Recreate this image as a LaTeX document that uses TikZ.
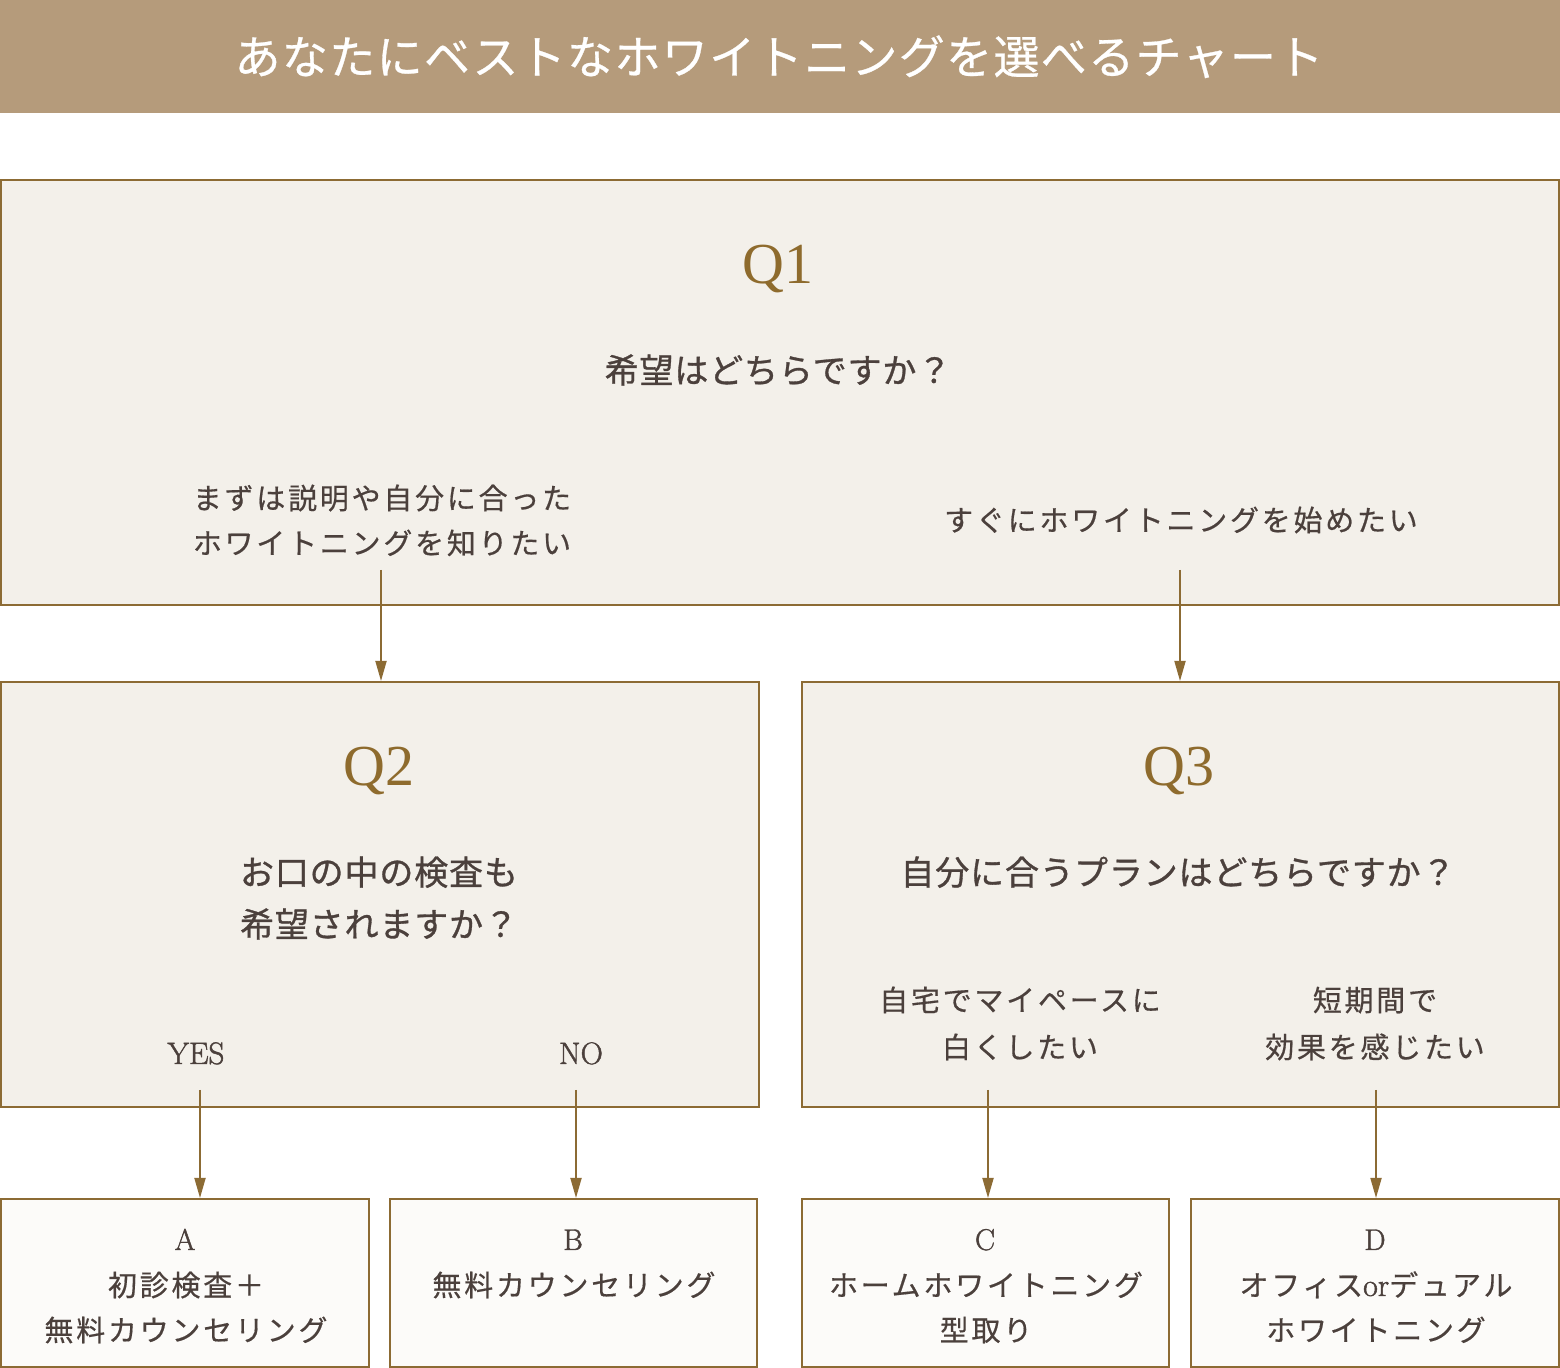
\documentclass[tikz,border=0pt]{standalone}
\usepackage{fontspec}
\newfontfamily\jptitle{Noto Sans CJK JP}[LetterSpace=3,FakeBold=0.6]
\newfontfamily\jpbody{Noto Sans CJK JP}[LetterSpace=2.5,FakeBold=0.9]
\newfontfamily\jpopt{Noto Sans CJK JP}[LetterSpace=9.5,FakeBold=0.5]
\newfontfamily\lmq{Liberation Serif}
\newfontfamily\lmt{Latin Modern Roman}[FakeBold=1.5]
\usetikzlibrary{arrows.meta}
\definecolor{hdr}{HTML}{B59B7B}
\definecolor{qfill}{HTML}{F3F0EA}
\definecolor{rfill}{HTML}{FCFBF9}
\definecolor{bord}{HTML}{8C6B34}
\definecolor{qlab}{HTML}{8E6B2D}
\definecolor{txt}{HTML}{4B403C}
\begin{document}
\begin{tikzpicture}[x=0.5pt,y=-0.5pt,
  qbox/.style={draw=bord,fill=qfill,line width=1pt,inner sep=0pt,minimum height=212.5pt},
  rbox/.style={draw=bord,fill=rfill,line width=1pt,inner sep=0pt,minimum height=84pt},
  ttl/.style={anchor=base,inner sep=0pt,text=white,font=\jptitle\fontsize{23pt}{26pt}\selectfont},
  qlabel/.style={anchor=base,inner sep=0pt,text=qlab,font=\lmq\fontsize{29pt}{30pt}\selectfont},
  body/.style={anchor=base,inner sep=0pt,text=txt,font=\jpbody\fontsize{17pt}{20pt}\selectfont},
  opt/.style={anchor=base,inner sep=0pt,text=txt,font=\jpopt\fontsize{14.5pt}{16pt}\selectfont},
  lat/.style={anchor=base,inner sep=0pt,text=txt,font=\lmt\fontsize{15.5pt}{18pt}\selectfont},
  letter/.style={anchor=base,inner sep=0pt,text=txt,font=\lmt\fontsize{15pt}{16pt}\selectfont},
  arr/.style={draw=bord,line width=0.9pt,-{Triangle[length=10pt,width=5.5pt]}}]
\useasboundingbox (0,0) rectangle (1560,1368);
% header
\node[fill=hdr,minimum width=780pt,minimum height=56.5pt,inner sep=0pt,anchor=north west] (hdrbar) at (0,0) {};
\node[ttl] (title) at (779,74) {あなたにベストなホワイトニングを選べるチャート};
% boxes
\node[qbox,minimum width=779pt] (q1) at (780,392.5) {};
\node[qbox,minimum width=379pt] (q2) at (380,894.5) {};
\node[qbox,minimum width=378.5pt] (q3) at (1180.5,894.5) {};
\node[rbox,minimum width=184pt] (ra) at (185,1283) {};
\node[rbox,minimum width=183.5pt] (rb) at (573.5,1283) {};
\node[rbox,minimum width=183.5pt] (rc) at (985.5,1283) {};
\node[rbox,minimum width=184pt] (rd) at (1375,1283) {};
% Q1
\node[qlabel] (q1l) at (778,284) {Q1};
\node[body] (q1t) at (778,383) {希望はどちらですか？};
\node[opt] (q1a1) at (382,509) {まずは説明や自分に合った};
\node[opt] (q1a2) at (382,554) {ホワイトニングを知りたい};
\node[opt] (q1b) at (1181,531) {すぐにホワイトニングを始めたい};
% Q2
\node[qlabel] (q2l) at (379,786) {Q2};
\node[body] (q2t1) at (379,885) {お口の中の検査も};
\node[body] (q2t2) at (379,937) {希望されますか？};
\node[lat] (yes) at (196,1064) {YES};
\node[lat] (no) at (581,1064) {NO};
% Q3
\node[qlabel] (q3l) at (1179,786) {Q3};
\node[body] (q3t) at (1178,885) {自分に合うプランはどちらですか？};
\node[opt] (q3a1) at (1020,1011) {自宅でマイペースに};
\node[opt] (q3a2) at (1020,1058) {白くしたい};
\node[opt] (q3b1) at (1375,1011) {短期間で};
\node[opt] (q3b2) at (1375,1058) {効果を感じたい};
% results
\node[letter] (la) at (185,1250) {A};
\node[opt] (ta1) at (186,1296) {初診検査＋};
\node[opt] (ta2) at (186,1341) {無料カウンセリング};
\node[letter] (lb) at (573,1250) {B};
\node[opt] (tb1) at (574,1296) {無料カウンセリング};
\node[letter] (lc) at (985,1250) {C};
\node[opt] (tc1) at (986,1296) {ホームホワイトニング};
\node[opt] (tc2) at (986,1341) {型取り};
\node[letter] (ld) at (1375,1250) {D};
\node[opt] (td1) at (1376,1296) {オフィス{\lmt\fontsize{16pt}{16pt}\selectfont or}デュアル};
\node[opt] (td2) at (1376,1341) {ホワイトニング};
% arrows
\coordinate (s1) at (381,570);
\coordinate (s2) at (1180,570);
\coordinate (s3) at (200,1090);
\coordinate (s4) at (576,1090);
\coordinate (s5) at (988,1090);
\coordinate (s6) at (1376,1090);
\draw[arr] (s1) -- (s1 |- q2.north);
\draw[arr] (s2) -- (s2 |- q3.north);
\draw[arr] (s3) -- (s3 |- ra.north);
\draw[arr] (s4) -- (s4 |- rb.north);
\draw[arr] (s5) -- (s5 |- rc.north);
\draw[arr] (s6) -- (s6 |- rd.north);
\end{tikzpicture}
\end{document}
